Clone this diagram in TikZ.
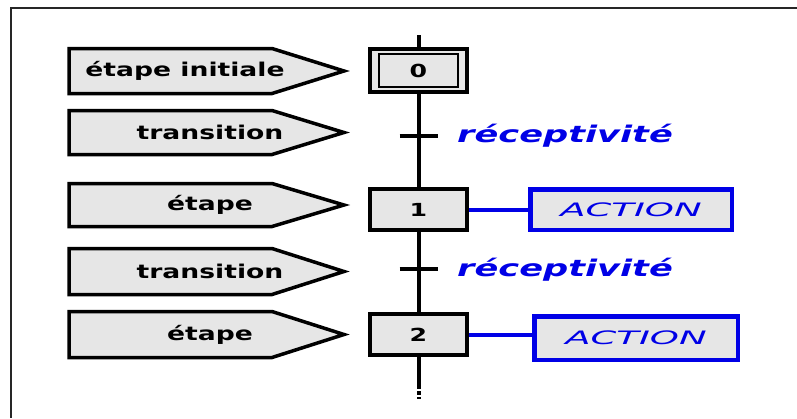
\documentclass[tikz,border=0pt]{standalone}
\usepackage{fontspec}
\newfontfamily\lblfont[FakeStretch=1.4]{DejaVu Sans}
\newfontfamily\recfont[FakeStretch=1.53]{DejaVu Sans}
\newfontfamily\actfont[FakeStretch=2.0]{DejaVu Sans}
\definecolor{grayfill}{HTML}{E6E6E6}
\definecolor{grafblue}{RGB}{0,0,230}
\newcommand{\grafpent}[2]{%
  \draw[pentstyle] (69,#1) -- (272,#1) -- (344,{(#1+#2)/2}) -- (272,#2) -- (69,#2) -- cycle;}
\tikzset{
  framestyle/.style={draw=black!85, line width=2.5pt},
  pentstyle/.style={draw=black, fill=grayfill, line width=3.5pt, line join=miter},
  lbl/.style={font=\lblfont\bfseries\fontsize{19}{22}\selectfont, text=black, inner sep=0pt},
  stepbox/.style={draw=black, fill=grayfill, line width=4pt, minimum width=97pt, minimum height=41pt, inner sep=0pt,
    font=\lblfont\bfseries\fontsize{18}{20}\selectfont},
  stepinner/.style={draw=black, line width=2pt, minimum width=79pt, minimum height=33pt, inner sep=0pt},
  vline/.style={draw=black, line width=4pt},
  bar/.style={draw=black, line width=3.3pt},
  rec/.style={font=\recfont\bfseries\itshape\fontsize{23}{26}\selectfont, text=grafblue, inner sep=0pt},
  actbox/.style={draw=grafblue, fill=grayfill, line width=4.5pt, inner sep=0pt,
    font=\actfont\itshape\fontsize{18.5}{20}\selectfont, text=grafblue},
  link/.style={draw=grafblue, line width=4pt},
}
\begin{document}
\begin{tikzpicture}[x=1pt,y=-1pt]
\useasboundingbox (0,0) rectangle (797,418);
% frame
\draw[framestyle] (797,8) -- (11,8) -- (11,418);
% labels (pentagons)
\grafpent{48.5}{93.5}
\grafpent{110.5}{154.5}
\grafpent{183.5}{226.5}
\grafpent{248.5}{294.5}
\grafpent{311.5}{357.5}
\node[lbl] (l0) at (185,71) {étape initiale};
\node[lbl] (l1) at (210,132.5) {transition};
\node[lbl] (l2) at (210,205) {étape};
\node[lbl] (l3) at (210,271.5) {transition};
\node[lbl] (l4) at (210,334.5) {étape};
% steps
\node[stepbox, minimum height=43pt] (s0) at (418.5,70.5) {0};
\node[stepinner] (s0i) at (s0.center) {};
\node[stepbox] (s1) at (418.5,209.5) {1};
\node[stepbox] (s2) at (418.5,334.5) {2};
% vertical links
\coordinate (top) at (418.5,35);
\coordinate (bot) at (418.5,389);
\coordinate (dstart) at (418.5,391);
\coordinate (botend) at (418.5,399);
\coordinate (t1) at (418.5,136);
\coordinate (t2) at (418.5,269);
\draw[vline] (top) -- (s0);
\draw[vline] (s0) -- (s1);
\draw[vline] (s1) -- (s2);
\draw[vline] (s2) -- (bot);
\draw[vline, dash pattern=on 4pt off 2pt on 2pt off 10pt] (dstart) -- (botend);
% transitions
\draw[bar] ([xshift=-19pt]t1) -- ([xshift=19pt]t1);
\draw[bar] ([xshift=-19pt]t2) -- ([xshift=19pt]t2);
\node[rec, anchor=base west] (r1) at (457,142) {réceptivité};
\node[rec, anchor=base west] (r2) at (457,276) {réceptivité};
% actions
\node[actbox, minimum width=201.5pt, minimum height=40.5pt] (a1) at (631,209.5) {ACTION};
\node[actbox, minimum width=203.5pt, minimum height=43.5pt] (a2) at (636,338) {ACTION};
\draw[link] (s1.east) -- (a1.west);
\draw[link] (s2.east) -- (s2.east -| a2.west);
\end{tikzpicture}
\end{document}
